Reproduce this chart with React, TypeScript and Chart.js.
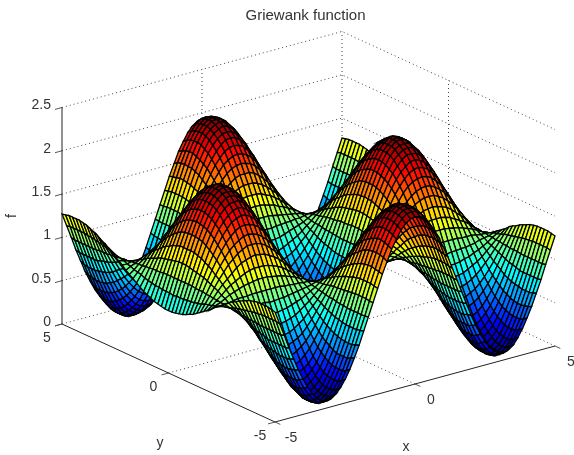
import React, { useEffect, useRef } from "react";
import { Chart, registerables } from "chart.js";

Chart.register(...registerables);

// Surface heights read for x = 0..5 (columns) and y = 0..5 (rows), 30 steps each way.
// The picture is mirror-symmetric in x and in y, so one quadrant is listed.
const gridStepsPerUnit = 6;
const surfaceQuadrant: number[][] = [
  [0,.01,.06,.12,.21,.33,.46,.61,.76,.93,1.10,1.26,1.42,1.56,1.69,1.80,1.89,1.95,1.99,2.00,1.98,1.94,1.87,1.77,1.66,1.52,1.37,1.22,1.05,.88,.72],
  [.01,.02,.06,.13,.22,.33,.46,.61,.77,.93,1.10,1.26,1.41,1.56,1.69,1.80,1.89,1.95,1.99,2.00,1.98,1.93,1.86,1.77,1.65,1.52,1.37,1.22,1.05,.89,.72],
  [.03,.04,.08,.15,.24,.35,.48,.62,.77,.93,1.09,1.25,1.41,1.55,1.67,1.78,1.87,1.93,1.96,1.97,1.96,1.91,1.85,1.75,1.64,1.51,1.37,1.21,1.05,.89,.73],
  [.06,.08,.11,.18,.26,.37,.49,.63,.78,.93,1.09,1.24,1.39,1.53,1.65,1.75,1.84,1.89,1.93,1.94,1.93,1.88,1.82,1.73,1.62,1.50,1.35,1.20,1.05,.89,.74],
  [.11,.12,.16,.22,.30,.40,.52,.65,.79,.94,1.09,1.23,1.37,1.50,1.62,1.72,1.79,1.85,1.89,1.89,1.88,1.84,1.78,1.69,1.59,1.47,1.34,1.19,1.05,.90,.75],
  [.17,.18,.22,.27,.35,.44,.55,.67,.81,.94,1.08,1.22,1.35,1.47,1.58,1.67,1.74,1.79,1.83,1.84,1.82,1.78,1.72,1.65,1.55,1.44,1.31,1.18,1.04,.90,.77],
  [.24,.25,.28,.33,.40,.49,.59,.70,.82,.95,1.07,1.20,1.32,1.43,1.53,1.61,1.68,1.73,1.76,1.77,1.75,1.72,1.66,1.59,1.50,1.40,1.29,1.17,1.04,.91,.79],
  [.32,.33,.36,.40,.47,.54,.63,.73,.84,.95,1.07,1.18,1.28,1.38,1.47,1.55,1.61,1.65,1.67,1.68,1.67,1.64,1.59,1.53,1.45,1.36,1.26,1.15,1.04,.92,.81],
  [.41,.42,.45,.49,.54,.61,.68,.77,.86,.96,1.06,1.15,1.25,1.33,1.41,1.47,1.52,1.56,1.58,1.59,1.58,1.55,1.51,1.46,1.39,1.31,1.22,1.13,1.03,.93,.84],
  [.51,.52,.54,.57,.62,.67,.74,.81,.89,.97,1.05,1.13,1.21,1.28,1.34,1.39,1.44,1.47,1.49,1.49,1.49,1.46,1.43,1.38,1.33,1.26,1.19,1.11,1.03,.95,.87],
  [.62,.62,.64,.67,.70,.74,.80,.85,.91,.97,1.04,1.10,1.16,1.22,1.27,1.31,1.34,1.37,1.38,1.39,1.38,1.36,1.34,1.30,1.25,1.20,1.15,1.09,1.02,.96,.90],
  [.73,.73,.74,.76,.79,.82,.85,.89,.94,.98,1.03,1.07,1.11,1.15,1.19,1.22,1.24,1.26,1.27,1.27,1.27,1.26,1.24,1.21,1.18,1.15,1.11,1.06,1.02,.97,.93],
  [.84,.85,.85,.86,.88,.90,.92,.94,.96,.99,1.02,1.04,1.07,1.09,1.11,1.13,1.14,1.15,1.16,1.16,1.16,1.15,1.14,1.13,1.11,1.09,1.07,1.04,1.01,.99,.96],
  [.96,.96,.96,.97,.97,.98,.98,.99,.99,1.00,1.01,1.01,1.02,1.02,1.03,1.03,1.04,1.04,1.04,1.04,1.04,1.04,1.04,1.03,1.03,1.03,1.02,1.01,1.01,1.00,1.00],
  [1.08,1.08,1.08,1.07,1.06,1.05,1.04,1.03,1.02,1.01,.99,.98,.97,.96,.95,.94,.93,.93,.92,.92,.93,.93,.94,.94,.95,.96,.98,.99,1.00,1.02,1.03],
  [1.20,1.20,1.19,1.17,1.16,1.13,1.11,1.08,1.05,1.02,.98,.95,.92,.89,.87,.85,.83,.82,.81,.81,.81,.82,.84,.85,.88,.90,.93,.96,1.00,1.03,1.06],
  [1.31,1.31,1.30,1.27,1.25,1.21,1.17,1.12,1.08,1.02,.97,.92,.87,.83,.79,.75,.73,.71,.70,.69,.70,.71,.74,.77,.80,.84,.89,.94,.99,1.04,1.09],
  [1.42,1.42,1.40,1.37,1.33,1.28,1.23,1.17,1.10,1.03,.96,.89,.83,.77,.71,.67,.63,.60,.59,.58,.59,.61,.64,.68,.73,.79,.85,.92,.99,1.06,1.13],
  [1.52,1.52,1.50,1.46,1.41,1.35,1.28,1.21,1.13,1.04,.95,.87,.79,.71,.64,.58,.54,.51,.49,.48,.49,.52,.55,.60,.66,.73,.81,.90,.98,1.07,1.16],
  [1.62,1.61,1.59,1.55,1.49,1.42,1.34,1.25,1.15,1.05,.94,.84,.75,.66,.58,.51,.46,.42,.39,.39,.40,.43,.47,.53,.60,.68,.78,.88,.98,1.08,1.18],
  [1.71,1.70,1.67,1.63,1.56,1.48,1.39,1.28,1.17,1.05,.94,.82,.71,.61,.52,.44,.38,.33,.30,.30,.31,.34,.39,.46,.54,.64,.75,.86,.97,1.09,1.21],
  [1.79,1.78,1.75,1.69,1.62,1.53,1.43,1.31,1.19,1.06,.93,.80,.68,.56,.46,.37,.30,.26,.23,.22,.23,.27,.33,.40,.49,.60,.71,.84,.97,1.10,1.23],
  [1.86,1.85,1.81,1.75,1.67,1.58,1.46,1.34,1.20,1.06,.92,.78,.65,.53,.42,.32,.25,.19,.16,.15,.17,.21,.27,.35,.45,.56,.69,.83,.97,1.11,1.25],
  [1.91,1.90,1.86,1.80,1.72,1.61,1.50,1.36,1.22,1.07,.92,.77,.63,.50,.38,.28,.20,.14,.11,.10,.12,.16,.22,.31,.41,.54,.67,.82,.96,1.12,1.27],
  [1.96,1.94,1.90,1.84,1.75,1.64,1.52,1.38,1.23,1.07,.91,.76,.61,.47,.35,.24,.16,.10,.07,.06,.07,.12,.18,.28,.39,.51,.66,.80,.96,1.12,1.28],
  [1.99,1.97,1.93,1.87,1.78,1.66,1.54,1.39,1.24,1.08,.91,.75,.60,.45,.33,.22,.13,.07,.04,.03,.04,.09,.16,.25,.37,.50,.65,.80,.96,1.13,1.29],
  [2.00,1.99,1.95,1.88,1.79,1.68,1.54,1.40,1.24,1.08,.91,.75,.59,.45,.32,.21,.12,.06,.02,.01,.03,.07,.15,.24,.36,.49,.64,.80,.96,1.13,1.29],
  [2.00,1.99,1.95,1.88,1.79,1.68,1.55,1.40,1.24,1.08,.91,.75,.59,.45,.32,.21,.12,.06,.02,.01,.03,.07,.14,.24,.36,.49,.64,.80,.96,1.13,1.29],
  [1.99,1.98,1.94,1.87,1.78,1.67,1.54,1.39,1.24,1.08,.91,.75,.59,.45,.32,.21,.13,.07,.03,.02,.04,.08,.15,.25,.36,.50,.64,.80,.96,1.13,1.29],
  [1.97,1.96,1.92,1.85,1.76,1.65,1.53,1.38,1.23,1.07,.91,.76,.61,.47,.34,.24,.15,.09,.06,.05,.06,.11,.18,.27,.38,.51,.65,.80,.96,1.13,1.28],
  [1.93,1.92,1.88,1.82,1.73,1.63,1.50,1.37,1.22,1.07,.92,.77,.62,.49,.37,.27,.19,.13,.09,.08,.10,.14,.21,.30,.41,.53,.67,.81,.97,1.12,1.27],
];

const titleText = "Griewank function";
const xTicks = [-5, 0, 5];
const yTicks = [5, 0, -5];
const zTicks = [0, 0.5, 1, 1.5, 2, 2.5];
const zTickLabels = ["0", "0.5", "1", "1.5", "2", "2.5"];

// Orthographic view of the box, in canvas pixels.
const project = (x: number, y: number, z: number) => {
  const u = (x + 5) / 10;
  const v = (y + 5) / 10;
  return { x: 275 + u * 280 - v * 213, y: 422 - u * 76 - v * 98 - z * 86.6 };
};

const jet = (t: number) => {
  const c = (d: number) => Math.round(255 * Math.max(0, Math.min(1, 1.5 - Math.abs(4 * t - d))));
  return `rgb(${c(3)},${c(2)},${c(1)})`;
};

const heightAt = (ix: number, iy: number) => {
  const cols = surfaceQuadrant[0].length - 1;
  return surfaceQuadrant[Math.abs(iy - cols)][Math.abs(ix - cols)];
};

const buildDatasets = () => {
  const sets: any[] = [];
  const n = (surfaceQuadrant[0].length - 1) * 2;
  const line = (pts: { x: number; y: number }[], color: string, dash: number[] = [], width = 1) => ({
    type: "scatter", data: pts, showLine: true, pointRadius: 0, fill: false, clip: false,
    borderColor: color, borderWidth: width, borderDash: dash, tension: 0,
  });

  // Solid axes and tick marks sit on top of everything.
  const axisColor = "#222";
  sets.push(line([project(-5, 5, 0), project(-5, -5, 0), project(5, -5, 0)], axisColor));
  sets.push(line([project(-5, 5, 0), project(-5, 5, 2.5)], axisColor));
  for (const z of zTicks) sets.push(line([project(-5, 5, z), project(-5.25, 5, z)], "#555"));
  for (const y of yTicks) sets.push(line([project(-5, y, 0), project(-5.25, y, 0)], "#555"));
  for (const x of xTicks) sets.push(line([project(x, -5, 0), project(x, -5.25, 0)], "#555"));

  // Surface quads, nearest first (index 0 is painted last).
  const p = (ix: number, iy: number) =>
    project(-5 + ix / gridStepsPerUnit, -5 + iy / gridStepsPerUnit, heightAt(ix, iy));
  for (let ix = 0; ix < n; ix++) {
    for (let iy = 0; iy < n; iy++) {
      const mean = (heightAt(ix, iy) + heightAt(ix + 1, iy) + heightAt(ix, iy + 1) + heightAt(ix + 1, iy + 1)) / 4;
      sets.push({
        type: "scatter",
        data: [p(ix, iy), p(ix + 1, iy), p(ix + 1, iy + 1), p(ix, iy + 1), p(ix, iy)],
        showLine: true, pointRadius: 0, fill: "shape", clip: false, tension: 0,
        backgroundColor: jet(mean / 2.0),
        borderColor: "#000", borderWidth: 1.3,
      });
    }
  }

  // Dotted back walls and floor grid, painted first.
  const dotted = "#444";
  const dash = [1, 3];
  for (const z of zTicks) {
    sets.push(line([project(-5, 5, z), project(5, 5, z), project(5, -5, z)], dotted, dash));
  }
  sets.push(line([project(5, 5, 0), project(5, 5, 2.5)], dotted, dash));
  sets.push(line([project(0, 5, 0), project(0, 5, 2.5)], dotted, dash));
  sets.push(line([project(5, 0, 0), project(5, 0, 2.5)], dotted, dash));
  sets.push(line([project(0, -5, 0), project(0, 5, 0)], dotted, dash));
  sets.push(line([project(-5, 0, 0), project(5, 0, 0)], dotted, dash));
  return sets;
};

const labelPlugin = {
  id: "axisLabels",
  afterDraw(chart: any) {
    const { ctx, scales } = chart;
    const at = (x: number, y: number, z: number) => {
      const q = project(x, y, z);
      return { x: scales.x.getPixelForValue(q.x), y: scales.y.getPixelForValue(q.y) };
    };
    ctx.save();
    ctx.fillStyle = "#333";
    ctx.textBaseline = "middle";
    ctx.font = "14px 'Liberation Sans'";
    ctx.textAlign = "right";
    zTicks.forEach((z, i) => {
      const q = at(-5, 5, z);
      ctx.fillText(zTickLabels[i], q.x - 11, q.y - 2);
    });
    ctx.textAlign = "center";
    yTicks.forEach((y) => {
      const q = at(-5, y, 0);
      ctx.fillText(String(y), q.x - 15, q.y + 14);
    });
    xTicks.forEach((x) => {
      const q = at(x, -5, 0);
      ctx.fillText(String(x), q.x + 16, q.y + 16);
    });
    ctx.fillText("y", 160, 443);
    ctx.fillText("x", 406, 447);
    ctx.translate(12, 216);
    ctx.rotate(-Math.PI / 2);
    ctx.fillText("f", 0, 0);
    ctx.restore();
  },
};

export default function App() {
  const ref = useRef<HTMLCanvasElement>(null);
  useEffect(() => {
    document.body.style.margin = "0";
    const chart = new Chart(ref.current!, {
      type: "scatter",
      data: { datasets: buildDatasets() },
      plugins: [labelPlugin],
      options: {
        animation: false,
        responsive: false,
        events: [],
        devicePixelRatio: 1,
        layout: { padding: { left: 37, right: 0, top: 0, bottom: 0 } },
        scales: {
          x: { type: "linear", display: false, min: 37, max: 574 },
          y: { type: "linear", display: false, min: 30, max: 455, reverse: true },
        },
        plugins: {
          legend: { display: false },
          tooltip: { enabled: false },
          title: {
            display: true,
            text: titleText,
            fullSize: false,
            color: "#333",
            padding: { top: 9, bottom: 8 },
            font: { family: "'Liberation Sans'", size: 15, weight: "normal", lineHeight: "13px" },
          },
        },
      } as any,
    } as any);
    return () => chart.destroy();
  }, []);
  return <canvas ref={ref} width={574} height={455} style={{ display: "block" }} />;
}
